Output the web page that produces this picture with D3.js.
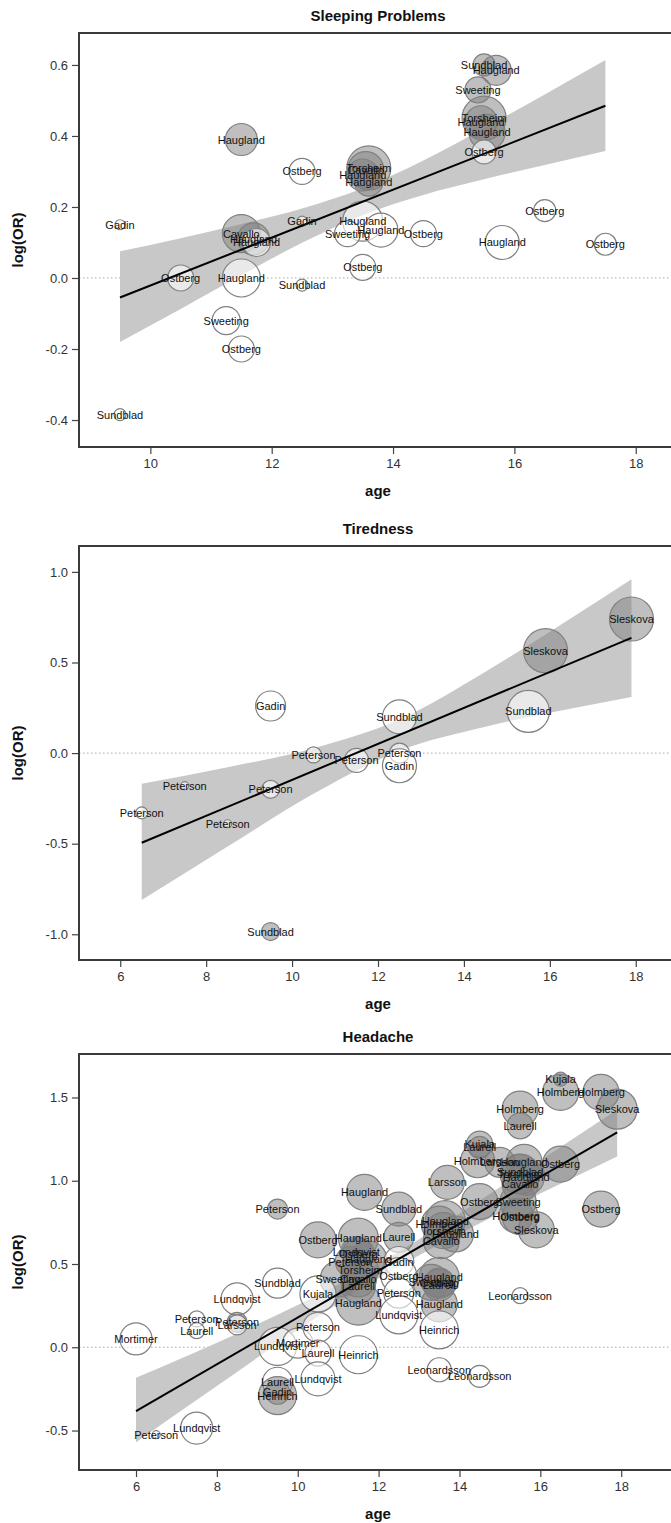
<!DOCTYPE html>
<html><head><meta charset="utf-8">
<script src="https://cdn.jsdelivr.net/npm/d3@7"></script>
<style>
html,body{margin:0;padding:0;background:#fff;}
svg{display:block;font-family:"Liberation Sans",Arial,sans-serif;}
</style></head>
<body>
<svg id="chart" width="671" height="1523"></svg>
<script>
// ---------------- Sleeping Problems ----------------
const sleepStudy = ["Sundblad","Haugland","Sweeting","Torsheim","Haugland","Haugland","Ostberg","Haugland","Ostberg","Torsheim","Cavallo","Haugland","Haugland","Gadin","Gadin","Haugland","Sweeting","Haugland","Ostberg","Ostberg","Haugland","Ostberg","Cavallo","Haugland","Haugland","Ostberg","Haugland","Sundblad","Ostberg","Sweeting","Ostberg","Sundblad"];
const sleepAge   = [15.5,15.7,15.4,15.5,15.45,15.55,15.5,11.5,12.5,13.6,13.55,13.5,13.6,9.5,12.5,13.5,13.25,13.8,14.5,16.5,15.8,17.5,11.5,11.7,11.75,10.5,11.5,12.5,13.5,11.25,11.5,9.5];
const sleepLogOR = [0.60,0.585,0.53,0.45,0.44,0.41,0.355,0.39,0.30,0.31,0.305,0.29,0.27,0.15,0.16,0.16,0.125,0.135,0.125,0.19,0.10,0.095,0.125,0.11,0.10,0.0,0.0,-0.02,0.03,-0.12,-0.20,-0.385];
const sleepSize  = [11,15,13,22,16,18,12,16,13,22,18,16,14,5,5,20,13,17,13,11,17,11,19,16,14,13,19,6,13,14,13,6];
const sleepSig   = [1,1,1,1,1,1,0,1,0,1,1,1,1,0,0,0,0,0,0,0,0,0,1,1,0,0,0,0,0,0,0,0];
const sleepFitAge = [9.5,17.5];
const sleepFitVal = [-0.055,0.485];
const sleepBandAge = [9.5,10.5,11.5,12.5,13.5,14.5,15.5,16.5,17.5];
const sleepBandLo  = [-0.18,-0.087,0.008,0.099,0.177,0.234,0.278,0.318,0.358];
const sleepBandHi  = [0.075,0.112,0.152,0.196,0.253,0.331,0.422,0.517,0.614];
const sleepXTicks = [10,12,14,16,18];
const sleepYTicks = [-0.4,-0.2,0.0,0.2,0.4,0.6];

// ---------------- Tiredness ----------------
const tiredStudy = ["Sleskova","Sleskova","Sundblad","Gadin","Sundblad","Peterson","Peterson","Peterson","Gadin","Peterson","Peterson","Peterson","Peterson","Sundblad"];
const tiredAge   = [17.9,15.9,15.5,9.5,12.5,10.5,11.5,12.5,12.5,7.5,9.5,6.5,8.5,9.5];
const tiredLogOR = [0.74,0.565,0.23,0.26,0.20,-0.01,-0.04,0.0,-0.07,-0.18,-0.20,-0.33,-0.39,-0.985];
const tiredSize  = [22,22,21,15,17,8,12,10,17,4,9,6,4,9];
const tiredSig   = [1,1,0,0,0,0,0,0,0,0,0,0,0,1];
const tiredFitAge = [6.5,17.9];
const tiredFitVal = [-0.495,0.636];
const tiredBandAge = [6.5,8.5,10.5,12.5,14.5,16.5,17.9];
const tiredBandLo  = [-0.811,-0.516,-0.225,0.013,0.145,0.246,0.31];
const tiredBandHi  = [-0.169,-0.078,0.027,0.185,0.449,0.746,0.96];
const tiredXTicks = [6,8,10,12,14,16,18];
const tiredYTicks = [-1.0,-0.5,0.0,0.5,1.0];

// ---------------- Headache ----------------
const headStudy = ["Kujala","Holmberg","Holmberg","Sleskova","Holmberg","Laurell","Kujala","Laurell","Holmberg","Larsson","Haugland","Ostberg","Sundblad","Torsheim","Haugland","Cavallo","Larsson","Ostberg","Sweeting","Holmberg","Ostberg","Sleskova","Ostberg","Haugland","Sundblad","Peterson","Haugland","Holmberg","Torsheim","Haugland","Cavallo","Ostberg","Haugland","Laurell","Lundqvist","Ostberg","Peterson","Haugland","Gadin","Torsheim","Sweeting","Cavallo","Laurell","Ostberg","Haugland","Sweeting","Laurell","Ostberg","Haugland","Kujala","Haugland","Peterson","Lundqvist","Sundblad","Lundqvist","Peterson","Laurell","Peterson","Larsson","Mortimer","Lundqvist","Mortimer","Peterson","Laurell","Heinrich","Heinrich","Leonardsson","Leonardsson","Leonardsson","Lundqvist","Laurell","Gadin","Heinrich","Lundqvist","Peterson"];
const headAge   = [16.5,16.5,17.5,17.9,15.5,15.5,14.5,14.5,14.45,15.0,15.6,16.5,15.5,15.5,15.65,15.5,13.7,14.5,15.45,15.4,15.5,15.9,17.5,11.65,12.5,9.5,13.65,13.5,13.6,13.9,13.55,10.5,11.5,12.5,11.45,11.5,11.3,11.75,12.5,11.55,11.0,11.5,11.5,12.5,13.5,13.3,13.5,13.5,13.5,10.5,11.5,12.5,12.5,9.5,8.5,7.5,7.5,8.5,8.5,6.0,9.5,10.0,10.5,10.5,11.5,13.5,15.5,13.5,14.5,10.5,9.5,9.5,9.5,7.5,6.5];
const headLogOR = [1.61,1.53,1.53,1.43,1.43,1.33,1.22,1.20,1.12,1.11,1.11,1.10,1.05,1.04,1.02,0.98,0.99,0.875,0.875,0.79,0.785,0.705,0.83,0.93,0.83,0.83,0.76,0.74,0.70,0.68,0.64,0.645,0.655,0.66,0.575,0.56,0.515,0.53,0.515,0.465,0.41,0.41,0.365,0.43,0.42,0.39,0.375,0.385,0.26,0.32,0.265,0.325,0.195,0.385,0.29,0.17,0.10,0.15,0.135,0.05,0.005,0.025,0.12,-0.035,-0.045,0.105,0.31,-0.135,-0.175,-0.19,-0.21,-0.27,-0.29,-0.485,-0.525];
const headSize  = [7,18,18,20,18,13,13,11,17,15,18,18,18,20,18,18,17,18,18,17,18,18,18,18,17,10,20,18,18,18,18,18,20,15,15,16,15,18,15,18,18,18,17,18,20,18,16,15,18,18,22,15,19,15,16,8,8,10,10,16,19,15,15,13,19,19,8,12,11,17,15,12,19,16,4];
const headSig   = [1,1,1,1,1,1,1,1,1,1,1,1,1,1,1,1,1,1,1,1,1,1,1,1,1,1,1,1,1,1,1,1,1,1,1,1,1,1,0,1,1,1,1,0,1,1,1,1,1,0,1,0,0,0,0,0,0,1,0,0,0,0,0,0,0,0,0,0,0,0,0,1,1,0,0];
const headFitAge = [6.0,17.9];
const headFitVal = [-0.384,1.29];
const headBandAge = [6,8,10,12,14,16,17.9];
const headBandLo  = [-0.57,-0.233,0.104,0.415,0.682,0.923,1.145];
const headBandHi  = [-0.183,0.027,0.254,0.505,0.802,1.123,1.426];
const headXTicks = [6,8,10,12,14,16,18];
const headYTicks = [-0.5,0.0,0.5,1.0,1.5];

const svg = d3.select("#chart");
const fmt1 = d => d3.format(".1f")(d).replace("\u2212","-");

function panel(cfg){
  const g = svg.append("g");
  const x = d3.scaleLinear().domain(cfg.xDomain).range([cfg.left, cfg.right]);
  const y = d3.scaleLinear().domain(cfg.yDomain).range([cfg.bottom, cfg.top]);
  const r = d3.scaleLinear().domain([0, 20]).range([0, 20]);

  g.append("text").attr("x", (cfg.left+cfg.right)/2).attr("y", cfg.top-12)
    .attr("text-anchor","middle").attr("font-size",15).attr("font-weight","bold")
    .attr("fill","#111").text(cfg.title);

  const clipId = "clip"+cfg.id;
  svg.append("clipPath").attr("id",clipId).append("rect")
    .attr("x",cfg.left).attr("y",cfg.top).attr("width",cfg.right-cfg.left).attr("height",cfg.bottom-cfg.top);
  const plot = g.append("g").attr("clip-path","url(#"+clipId+")");

  plot.append("line").attr("x1",cfg.left).attr("x2",cfg.right)
    .attr("y1",y(0)).attr("y2",y(0))
    .attr("stroke","#aaa").attr("stroke-width",1).attr("stroke-dasharray","1.5,2.5");

  const band = cfg.bandAge.map((a,i)=>({a, lo:cfg.bandLo[i], hi:cfg.bandHi[i]}));
  plot.append("path").datum(band)
    .attr("d", d3.area().x(d=>x(d.a)).y0(d=>y(d.lo)).y1(d=>y(d.hi)).curve(d3.curveMonotoneX))
    .attr("fill","#c8c8c8");

  const pts = cfg.study.map((s,i)=>({s, a:cfg.age[i], v:cfg.val[i], w:cfg.size[i], sig:cfg.sig[i]}));
  plot.selectAll("circle.b").data(pts).enter().append("circle")
    .attr("cx",d=>x(d.a)).attr("cy",d=>y(d.v)).attr("r",d=>r(d.w))
    .attr("fill",d=>d.sig ? "#7f7f7f" : "#ffffff")
    .attr("fill-opacity",d=>d.sig ? 0.5 : 0.6)
    .attr("stroke","#808080").attr("stroke-width",1.2);

  plot.append("line")
    .attr("x1",x(cfg.fitAge[0])).attr("y1",y(cfg.fitVal[0]))
    .attr("x2",x(cfg.fitAge[1])).attr("y2",y(cfg.fitVal[1]))
    .attr("stroke","#000").attr("stroke-width",2);

  plot.selectAll("text.l").data(pts).enter().append("text")
    .attr("x",d=>x(d.a)).attr("y",d=>y(d.v)+4)
    .attr("text-anchor","middle").attr("font-size",11).attr("fill","#111")
    .text(d=>d.s);

  g.append("rect").attr("x",cfg.left).attr("y",cfg.top)
    .attr("width",cfg.right-cfg.left).attr("height",cfg.bottom-cfg.top)
    .attr("fill","none").attr("stroke","#3a3a3a").attr("stroke-width",2);

  const xa = g.append("g").attr("transform","translate(0,"+(cfg.bottom+1)+")")
    .call(d3.axisBottom(x).tickValues(cfg.xTicks).tickFormat(d3.format("d")).tickSize(6).tickPadding(5));
  const ya = g.append("g").attr("transform","translate("+(cfg.left-1)+",0)")
    .call(d3.axisLeft(y).tickValues(cfg.yTicks).tickFormat(fmt1).tickSize(6).tickPadding(4));
  [xa,ya].forEach(a=>{
    a.select(".domain").remove();
    a.selectAll(".tick line").attr("stroke","#444").attr("stroke-width",1.2);
    a.selectAll(".tick text").attr("font-size",13).attr("fill","#333")
      .attr("font-family","'Liberation Sans',Arial,sans-serif");
  });

  g.append("text").attr("x",(cfg.left+cfg.right)/2).attr("y",cfg.bottom+49)
    .attr("text-anchor","middle").attr("font-size",15).attr("font-weight","bold").attr("fill","#111").text("age");
  g.append("text").attr("transform","translate(23,"+((cfg.top+cfg.bottom)/2)+") rotate(-90)")
    .attr("text-anchor","middle").attr("font-size",15).attr("font-weight","bold").attr("fill","#111").text("log(OR)");
}

panel({id:1, title:"Sleeping Problems", left:79, right:677, top:33, bottom:447,
  xDomain:[8.824,18.68], yDomain:[-0.476,0.69],
  study:sleepStudy, age:sleepAge, val:sleepLogOR, size:sleepSize, sig:sleepSig,
  fitAge:sleepFitAge, fitVal:sleepFitVal, bandAge:sleepBandAge, bandLo:sleepBandLo, bandHi:sleepBandHi,
  xTicks:sleepXTicks, yTicks:sleepYTicks});
panel({id:2, title:"Tiredness", left:79, right:677, top:546, bottom:960,
  xDomain:[5.04,18.96], yDomain:[-1.142,1.143],
  study:tiredStudy, age:tiredAge, val:tiredLogOR, size:tiredSize, sig:tiredSig,
  fitAge:tiredFitAge, fitVal:tiredFitVal, bandAge:tiredBandAge, bandLo:tiredBandLo, bandHi:tiredBandHi,
  xTicks:tiredXTicks, yTicks:tiredYTicks});
panel({id:3, title:"Headache", left:79, right:677, top:1054, bottom:1470,
  xDomain:[4.59,19.38], yDomain:[-0.737,1.761],
  study:headStudy, age:headAge, val:headLogOR, size:headSize, sig:headSig,
  fitAge:headFitAge, fitVal:headFitVal, bandAge:headBandAge, bandLo:headBandLo, bandHi:headBandHi,
  xTicks:headXTicks, yTicks:headYTicks});
</script>
</body></html>
